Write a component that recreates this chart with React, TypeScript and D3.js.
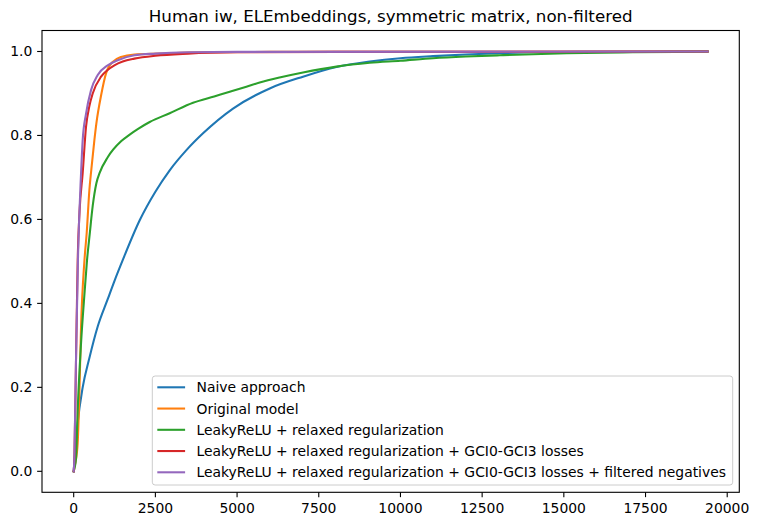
import React from "react";
import * as d3 from "d3";

const seriesNames = [
  "Naive approach",
  "Original model",
  "LeakyReLU + relaxed regularization",
  "LeakyReLU + relaxed regularization + GCI0-GCI3 losses",
  "LeakyReLU + relaxed regularization + GCI0-GCI3 losses + filtered negatives",
];
const seriesColors = ["#1f77b4", "#ff7f0e", "#2ca02c", "#d62728", "#9467bd"];

const naiveX = [0, 50, 122, 275, 480, 735, 1041, 1255, 1500, 2020, 2500, 2938, 3450, 3958, 4876, 5999, 7018, 8041, 9060, 10000, 10998, 12000, 13000, 14000, 15500, 19400];
const naiveY = [0, 0.05, 0.115, 0.2, 0.27, 0.345, 0.41, 0.455, 0.503, 0.598, 0.666, 0.717, 0.765, 0.805, 0.864, 0.912, 0.94, 0.963, 0.976, 0.984, 0.989, 0.993, 0.996, 0.998, 0.999, 1.0];

const originalX = [0, 50, 122, 174, 225, 327, 400, 480, 541, 633, 694, 842, 990, 1051, 1194, 1449, 1857, 2632, 4000, 6000, 19400];
const originalY = [0, 0.02, 0.067, 0.186, 0.344, 0.5, 0.57, 0.67, 0.72, 0.789, 0.829, 0.897, 0.948, 0.96, 0.975, 0.987, 0.993, 0.995, 0.998, 0.999, 1.0];

const leakyX = [0, 71, 122, 225, 337, 408, 490, 582, 694, 800, 1041, 1449, 1714, 1959, 2326, 2938, 3652, 4300, 4775, 5285, 5693, 6300, 7018, 8041, 9060, 10000, 10998, 12000, 13039, 15080, 17110, 19400];
const leakyY = [0, 0.03, 0.146, 0.305, 0.43, 0.503, 0.565, 0.632, 0.686, 0.712, 0.748, 0.786, 0.802, 0.815, 0.832, 0.853, 0.878, 0.893, 0.904, 0.916, 0.926, 0.938, 0.95, 0.964, 0.973, 0.978, 0.984, 0.988, 0.991, 0.996, 0.998, 1.0];

const gciX = [0, 20, 71, 122, 180, 275, 378, 480, 582, 837, 1041, 1245, 1500, 1857, 2500, 3500, 5000, 8000, 19400];
const gciY = [0, 0.027, 0.265, 0.503, 0.62, 0.71, 0.821, 0.87, 0.9, 0.94, 0.956, 0.967, 0.976, 0.983, 0.99, 0.995, 0.998, 0.999, 1.0];

const filteredX = [0, 20, 71, 135, 225, 275, 378, 531, 735, 1041, 1347, 1857, 2500, 3500, 5000, 19400];
const filteredY = [0, 0.03, 0.27, 0.52, 0.71, 0.789, 0.852, 0.908, 0.944, 0.967, 0.979, 0.991, 0.995, 0.998, 0.999, 1.0];

const seriesX = [naiveX, originalX, leakyX, gciX, filteredX];
const seriesY = [naiveY, originalY, leakyY, gciY, filteredY];

const xTicks = [0, 2500, 5000, 7500, 10000, 12500, 15000, 17500, 20000];
const yTicks = [0.0, 0.2, 0.4, 0.6, 0.8, 1.0];
const title = "Human iw, ELEmbeddings, symmetric matrix, non-filtered";

export default function App() {
  const W = 759, H = 526;
  const left = 42, right = 739.3, top = 30.5, bottom = 492.3;
  const x = d3.scaleLinear().domain([-970, 20370]).range([left, right]);
  const y = d3.scaleLinear().domain([-0.05, 1.05]).range([bottom, top]);
  const line = d3
    .line<[number, number]>()
    .x((d) => x(d[0]))
    .y((d) => y(d[1]))
    .curve(d3.curveMonotoneX);
  const font = "DejaVu Sans, sans-serif";
  const legX = 152.3, legY = 376, legW = 580.4, legH = 109;
  const rowY0 = 387.3, rowStep = 21.25;

  return (
    <svg
      width={W}
      height={H}
      style={{ position: "absolute", left: 0, top: 0 }}
      fontFamily={font}
    >
      <rect x={0} y={0} width={W} height={H} fill="#ffffff" />
      <defs>
        <clipPath id="plotclip">
          <rect x={left} y={top} width={right - left} height={bottom - top} />
        </clipPath>
      </defs>
      <g clipPath="url(#plotclip)">
        {seriesX.map((xs, i) => (
          <path
            key={i}
            d={line(xs.map((v, j) => [v, seriesY[i][j]] as [number, number])) || ""}
            fill="none"
            stroke={seriesColors[i]}
            strokeWidth={2.08}
            strokeLinejoin="round"
            strokeLinecap="square"
          />
        ))}
      </g>
      <rect
        x={left}
        y={top}
        width={right - left}
        height={bottom - top}
        fill="none"
        stroke="#000"
        strokeWidth={1.1}
      />
      {xTicks.map((t) => (
        <g key={"x" + t}>
          <line x1={x(t)} x2={x(t)} y1={bottom} y2={bottom + 4.86} stroke="#000" strokeWidth={1.1} />
          <text x={x(t)} y={513.3} fontSize={13.9} textAnchor="middle" fill="#000">
            {t}
          </text>
        </g>
      ))}
      {yTicks.map((t) => (
        <g key={"y" + t}>
          <line x1={left - 4.86} x2={left} y1={y(t)} y2={y(t)} stroke="#000" strokeWidth={1.1} />
          <text
            x={left - 9.7}
            y={y(t)}
            fontSize={13.9}
            textAnchor="end"
            dominantBaseline="central"
            fill="#000"
          >
            {t.toFixed(1)}
          </text>
        </g>
      ))}
      <text x={(left + right) / 2} y={22.2} fontSize={16.7} textAnchor="middle" fill="#000">
        {title}
      </text>
      <rect
        x={legX}
        y={legY}
        width={legW}
        height={legH}
        rx={2.8}
        fill="#ffffff"
        fillOpacity={0.8}
        stroke="#cccccc"
        strokeWidth={1}
      />
      {seriesNames.map((name, i) => (
        <g key={"l" + i}>
          <line
            x1={157.3}
            x2={185.1}
            y1={rowY0 + i * rowStep}
            y2={rowY0 + i * rowStep}
            stroke={seriesColors[i]}
            strokeWidth={2.08}
          />
          <text
            x={196.5}
            y={rowY0 + i * rowStep}
            fontSize={13.9}
            dominantBaseline="central"
            fill="#000"
          >
            {name}
          </text>
        </g>
      ))}
    </svg>
  );
}
